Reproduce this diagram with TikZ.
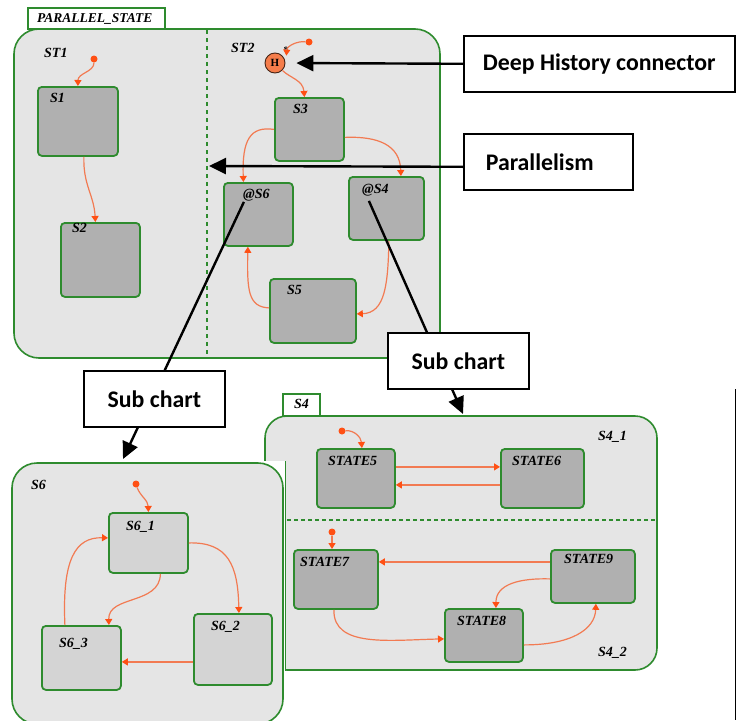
\documentclass[tikz,border=0pt]{standalone}
\usepackage{fontspec}
\setmainfont{Liberation Serif}
\newfontfamily\calloutfont{Carlito}
\usetikzlibrary{arrows.meta,calc}

\definecolor{chartgreen}{RGB}{46,139,46}
\definecolor{chartbg}{RGB}{229,229,229}
\definecolor{statefill}{RGB}{176,176,176}
\definecolor{substatefill}{RGB}{212,212,212}
\definecolor{transline}{RGB}{242,122,82}
\definecolor{transhead}{RGB}{255,80,20}
\definecolor{histfill}{RGB}{245,125,75}

\tikzset{
  chart/.style={draw=chartgreen, line width=1.6pt, fill=chartbg, rounded corners=25pt},
  tab/.style={draw=chartgreen, line width=1.4pt, fill=white},
  stbox/.style={draw=chartgreen, line width=1.8pt, fill=statefill, rounded corners=4pt,
    inner sep=0pt, anchor=north west},
  substbox/.style={stbox, fill=substatefill},
  lbl/.style={font=\bfseries\itshape\fontsize{14}{14}\selectfont, inner sep=0pt, anchor=base west},
  tr/.style={draw=transline, line width=1.2pt,
    -{Triangle[length=6pt,width=7pt,color=transhead]}},
  initdot/.style={circle, fill=transhead, inner sep=0pt, minimum size=7pt},
  divider/.style={draw=chartgreen, line width=1.6pt, dash pattern=on 4pt off 4pt},
  callout/.style={draw=black, line width=1.6pt, fill=white,
    font=\calloutfont\bfseries\fontsize{23.8}{23.8}\selectfont, inner sep=0pt, anchor=north west},
  pointer/.style={draw=black, line width=2.4pt, -{Triangle[length=17pt,width=16pt]}},
}

\begin{document}
\begin{tikzpicture}[x=1pt,y=-1pt]
\useasboundingbox (0,0) rectangle (736,720);

% ---------- PARALLEL_STATE chart ----------
\draw[chart] (14,29) rectangle (440,358);
\draw[tab] (28,8) rectangle (165,29);
\node[lbl, font=\bfseries\itshape\fontsize{13.5}{13.5}\selectfont] (pslbl) at (37,22) {PARALLEL\_STATE};
\draw[divider] (207,30) -- (207,357);
\node[lbl] (st1lbl) at (44,57) {ST1};
\node[lbl] (st2lbl) at (231,52) {ST2};

\node[stbox, minimum width=80, minimum height=69] (S1) at (37,86) {};
\node[stbox, minimum width=79, minimum height=74] (S2) at (60,222) {};
\node[stbox, minimum width=69, minimum height=63] (S3) at (274,97) {};
\node[stbox, minimum width=69, minimum height=63] (S6at) at (223,182) {};
\node[stbox, minimum width=75, minimum height=63] (S4at) at (348,176) {};
\node[stbox, minimum width=86, minimum height=64] (S5) at (269,278) {};
\node[lbl] (S1lbl) at (50,102) {S1};
\node[lbl] (S2lbl) at (72,232) {S2};
\node[lbl] (S3lbl) at (293,113) {S3};
\node[lbl] (S6atlbl) at (243,198) {@S6};
\node[lbl] (S4atlbl) at (362,193) {@S4};
\node[lbl] (S5lbl) at (287,294) {S5};

\node[circle, draw={rgb,255:red,70;green,35;blue,20}, line width=0.9pt, fill=histfill,
  minimum size=20pt, inner sep=0pt, font=\bfseries\fontsize{11}{11}\selectfont] (H) at (275,63) {H};
\node[inner sep=0pt, font=\bfseries\fontsize{10}{10}\selectfont] (Hstar) at (286,50) {*};

\node[initdot] (i1) at (94,59) {};
\node[initdot] (i2) at (309,42) {};

\draw[tr] (i1) .. controls (94,72) and (78,73) .. (S1.north);
\draw[tr] ($(S1.south)+(6,0)$) .. controls (83,185) and (94,195) .. ($(S2.north)+(-5,0)$);
\draw[tr] (i2) .. controls (297,41) and (287,46) .. ($(H.north east)+(4,0)$);
\draw[tr] (H.south east) .. controls (290,78) and (303,80) .. ($(S3.north)+(-5,0)$);
\draw[tr] (S3.west) .. controls (250,126) and (242,140) .. ($(S6at.north)+(-15,0)$);
\draw[tr] ($(S3.east)+(0,8)$) .. controls (378,136) and (400,145) .. ($(S4at.north)+(14.5,0)$);
\draw[tr] ($(S5.west)+(0,-3)$) .. controls (248,307) and (247,290) .. ($(S6at.south)+(-10.5,0)$);
\draw[tr] ($(S4at.south)+(2.5,0)$) .. controls (388,285) and (385,313) .. ($(S5.east)+(0,3)$);

% ---------- S4 chart ----------
\draw[chart, rounded corners=22pt] (265,416) rectangle (657,670);
\draw[tab] (283,394) rectangle (320,416);
\node[lbl] (s4lbl) at (294,408) {S4};
\node[lbl] (s41lbl) at (598,440) {S4\_1};
\node[lbl] (s42lbl) at (598,656) {S4\_2};
\draw[divider, dash pattern=on 3.5pt off 3.5pt] (266,520) -- (656,520);

\node[stbox, minimum width=78, minimum height=59] (st5) at (316,448) {};
\node[stbox, minimum width=83, minimum height=59] (st6) at (500,448) {};
\node[stbox, minimum width=84, minimum height=59] (st7) at (293,549) {};
\node[stbox, minimum width=84, minimum height=53] (st9) at (550,549) {};
\node[stbox, minimum width=78, minimum height=53] (st8) at (444,608) {};
\node[lbl] (st5lbl) at (328,465) {STATE5};
\node[lbl] (st6lbl) at (512,465) {STATE6};
\node[lbl] (st7lbl) at (300,566) {STATE7};
\node[lbl] (st9lbl) at (564,563) {STATE9};
\node[lbl] (st8lbl) at (457,625) {STATE8};

\node[initdot] (d5) at (342,431) {};
\node[initdot] (d7) at (332,532) {};
\draw[tr] (d5) .. controls (354,430) and (361,437) .. ($(st5.north)+(6,0)$);
\draw[tr] ($(st5.east)+(0,-11.5)$) -- ($(st6.west)+(0,-11.5)$);
\draw[tr] ($(st6.west)+(0,6.5)$) -- ($(st5.east)+(0,6.5)$);
\draw[tr] (d7) -- (d7 |- st7.north);
\draw[tr] ($(st9.west)+(0,-14.5)$) -- ($(st7.east)+(0,-17.5)$);
\draw[tr] ($(st9.west)+(0,2.5)$) .. controls (520,578) and (496,584) .. ($(st8.north)+(12,0)$);
\draw[tr] ($(st7.south)+(-2,0)$) .. controls (333,648) and (390,640) .. ($(st8.west)+(0,3.5)$);
\draw[tr] ($(st8.east)+(0,9.5)$) .. controls (570,645) and (595,630) .. ($(st9.south)+(3,0)$);

% ---------- S6 chart, set over the S4 chart ----------
\fill[white] (0,461) rectangle (285,720);
\draw[chartgreen, line width=1.4pt] (285.5,461) -- (285.5,670.5);
\draw[chart] (12,463) rectangle (283,724);
\node[lbl] (s6lbl) at (31,489) {S6};

\node[substbox, minimum width=79, minimum height=60] (s61) at (108,512) {};
\node[substbox, minimum width=78, minimum height=71] (s62) at (193,613) {};
\node[substbox, minimum width=79, minimum height=64] (s63) at (41,625) {};
\node[lbl] (s61lbl) at (126,530) {S6\_1};
\node[lbl] (s62lbl) at (211,630) {S6\_2};
\node[lbl] (s63lbl) at (59,647) {S6\_3};

\node[initdot] (d6) at (136,484) {};
\draw[tr] (d6) .. controls (140,496) and (148,500) .. (s61.north);
\draw[tr] (s61.east) .. controls (228,542) and (238,565) .. ($(s62.north)+(6,0)$);
\draw[tr] ($(s61.south)+(12,0)$) .. controls (160,605) and (108,595) .. ($(s63.north)+(27.5,0)$);
\draw[tr] ($(s63.north)+(-16.5,0)$) .. controls (62,560) and (75,537) .. ($(s61.west)+(0,-5)$);
\draw[tr] ($(s62.west)+(0,12.5)$) -- ($(s63.east)+(0,4)$);

% ---------- callouts ----------
\coordinate (divtip) at (209,166);
\coordinate (s4top) at (463,414);
\coordinate (s6top) at (123,459);

\draw[pointer] ($(S4at.center)+(-17.5,-7.5)$) -- (s4top);
\draw[pointer] ($(S6at.center)+(-14.5,-12.5)$) -- (s6top);

\node[callout, minimum width=271, minimum height=56] (dh) at (463,35) {Deep History connector};
\node[callout, minimum height=56, inner xsep=22pt, text width=125pt, align=left] (par) at (463,133) {Parallelism};
\node[callout, minimum width=141, minimum height=56] (subR) at (387,332) {Sub chart};
\node[callout, minimum width=141, minimum height=56] (subL) at (83,370) {Sub chart};

\draw[pointer, shorten >=11pt] (dh.west) -- (H.east);
\draw[pointer] ($(par.west)+(0,5)$) -- (divtip);

% page edge rule
\draw[black, line width=1pt] (735,389) -- (735,720);
\end{tikzpicture}
\end{document}
